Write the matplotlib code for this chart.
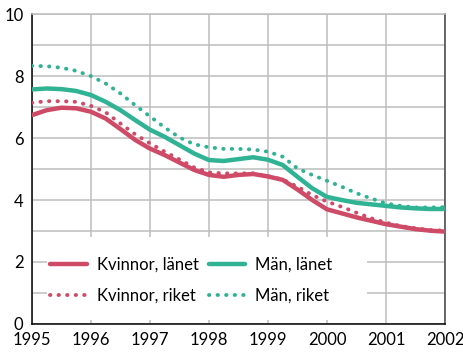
import matplotlib.pyplot as plt
from matplotlib.patches import Rectangle

plt.rcParams["font.family"] = ["Lato", "DejaVu Sans"]

# quarter-year sampling points
years = [1995.0, 1995.25, 1995.5, 1995.75, 1996.0, 1996.25, 1996.5, 1996.75,
         1997.0, 1997.25, 1997.5, 1997.75, 1998.0, 1998.25, 1998.5, 1998.75,
         1999.0, 1999.25, 1999.5, 1999.75, 2000.0, 2000.25, 2000.5, 2000.75,
         2001.0, 2001.25, 2001.5, 2001.75, 2002.0]
kvinnor_lanet = [6.74, 6.90, 6.98, 6.96, 6.85, 6.63, 6.29, 5.94,
                 5.66, 5.45, 5.21, 4.97, 4.81, 4.75, 4.81, 4.84,
                 4.76, 4.65, 4.34, 4.00, 3.70, 3.57, 3.44, 3.33,
                 3.22, 3.14, 3.06, 3.01, 2.98]
man_lanet = [7.57, 7.60, 7.58, 7.52, 7.39, 7.17, 6.90, 6.58,
             6.27, 6.04, 5.77, 5.50, 5.29, 5.26, 5.32, 5.38,
             5.30, 5.13, 4.75, 4.38, 4.10, 4.00, 3.91, 3.86,
             3.81, 3.76, 3.73, 3.71, 3.71]
kvinnor_riket = [7.14, 7.19, 7.19, 7.17, 7.04, 6.83, 6.47, 6.12,
                 5.83, 5.56, 5.31, 5.05, 4.89, 4.86, 4.86, 4.86,
                 4.77, 4.66, 4.43, 4.16, 3.95, 3.78, 3.59, 3.41,
                 3.27, 3.16, 3.09, 3.03, 3.01]
man_riket = [8.33, 8.32, 8.27, 8.17, 8.00, 7.76, 7.44, 7.06,
             6.70, 6.34, 6.02, 5.80, 5.70, 5.65, 5.65, 5.63,
             5.56, 5.40, 5.02, 4.81, 4.62, 4.43, 4.22, 4.05,
             3.89, 3.81, 3.76, 3.76, 3.77]

x_ticks = [1995, 1996, 1997, 1998, 1999, 2000, 2001, 2002]
y_ticks = [0, 2, 4, 6, 8, 10]

RED = "#cf4a66"
GREEN = "#2fb394"
DOTS = (0, (0.1, 2.1))

fig = plt.figure(figsize=(4.63, 3.54), dpi=100)
ax = fig.add_axes([0.069, 0.085, 0.892, 0.875])

l_kl, = ax.plot(years, kvinnor_lanet, color=RED, lw=3.2,
                solid_capstyle="round", label="Kvinnor, länet", zorder=3)
l_ml, = ax.plot(years, man_lanet, color=GREEN, lw=3.2,
                solid_capstyle="round", label="Män, länet", zorder=3)
l_kr, = ax.plot(years, kvinnor_riket, color=RED, lw=2.8, linestyle=DOTS,
                dash_capstyle="round", label="Kvinnor, riket", zorder=3)
l_mr, = ax.plot(years, man_riket, color=GREEN, lw=2.8, linestyle=DOTS,
                dash_capstyle="round", label="Män, riket", zorder=3)

ax.set_xlim(1995, 2002)
ax.set_ylim(0, 10)
ax.set_xticks(x_ticks)
ax.set_yticks(y_ticks)
ax.set_yticks(range(0, 11), minor=True)
ax.tick_params(which="both", length=0, labelsize=12, colors="black")
ax.tick_params(axis="x", pad=6)
ax.tick_params(axis="y", pad=6)
ax.grid(True, which="both", color="#bdbdbd", lw=1.1)
ax.set_axisbelow(True)

ax.spines["left"].set_color("black")
ax.spines["bottom"].set_color("black")
ax.spines["right"].set_color("#444444")
ax.spines["top"].set_color("#bdbdbd")
for s in ax.spines.values():
    s.set_linewidth(1.1)

# white panel behind the legend, hiding the grid there
ax.add_patch(Rectangle((0.036, 0.013), 0.775, 0.268, transform=ax.transAxes,
                       facecolor="white", edgecolor="none", zorder=1))

ax.legend([l_kl, l_kr, l_ml, l_mr],
          ["Kvinnor, länet", "Kvinnor, riket", "Män, länet", "Män, riket"],
          loc="upper left", bbox_to_anchor=(0.108, 0.274),
          bbox_transform=fig.transFigure, ncol=2, fontsize=12,
          frameon=False, borderpad=0, borderaxespad=0, handlelength=2.2,
          handletextpad=0.6, labelspacing=0.87, columnspacing=0.6)

fig.savefig("out.png", dpi=100)
